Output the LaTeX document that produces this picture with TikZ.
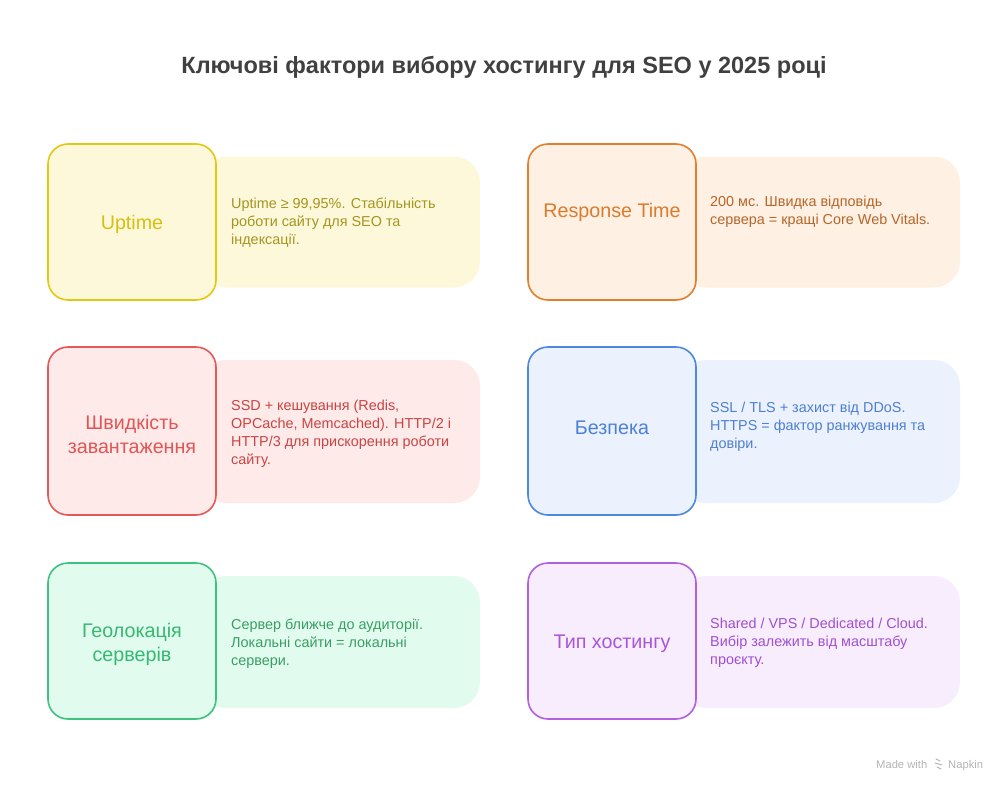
\documentclass[tikz,border=0pt]{standalone}
\usepackage{fontspec}
\setmainfont{Liberation Sans}
\usetikzlibrary{positioning}

\definecolor{headgray}{HTML}{404040}
\definecolor{footgray}{HTML}{B4B4B4}
\definecolor{ylwline}{HTML}{E3C710}
\definecolor{ylwfill}{HTML}{FEF8DA}
\definecolor{ylwtitle}{HTML}{D6BE12}
\definecolor{ylwtext}{HTML}{A39520}
\definecolor{orgline}{HTML}{E07F2E}
\definecolor{orgfill}{HTML}{FEF0E3}
\definecolor{orgtitle}{HTML}{DB7B2E}
\definecolor{orgtext}{HTML}{B5662A}
\definecolor{redline}{HTML}{E65757}
\definecolor{redfill}{HTML}{FDEAE9}
\definecolor{redtitle}{HTML}{E05555}
\definecolor{redtext}{HTML}{C94444}
\definecolor{bluline}{HTML}{4C87E0}
\definecolor{blufill}{HTML}{EBF2FE}
\definecolor{blutitle}{HTML}{4C80D8}
\definecolor{blutext}{HTML}{4E7FD0}
\definecolor{grnline}{HTML}{3EC27F}
\definecolor{grnfill}{HTML}{E1FBEF}
\definecolor{grntitle}{HTML}{35B872}
\definecolor{grntext}{HTML}{3A9E63}
\definecolor{purline}{HTML}{B25FE0}
\definecolor{purfill}{HTML}{F7EDFD}
\definecolor{purtitle}{HTML}{A955D8}
\definecolor{purtext}{HTML}{A050D0}

\begin{document}
\begin{tikzpicture}[x=1pt,y=-1pt]

\tikzset{factor/.style = {shape=rectangle,rounded corners=20pt,draw,line width=1.6pt,minimum width=168pt,minimum height=156pt}}
\tikzset{panel/.style = {shape=rectangle,rounded corners=26pt,minimum width=280pt,minimum height=131pt}}
\tikzset{factorname/.style = {align=center,inner sep=0pt,font=\fontsize{19.7}{24}\selectfont}}
\tikzset{info/.style = {anchor=west,align=left,inner sep=0pt,font=\fontsize{14.4}{18}\selectfont}}
\tikzset{foot/.style = {anchor=base west,inner sep=0pt,font=\fontsize{11.2}{13}\selectfont,text=footgray}}
\useasboundingbox (0,0) rectangle (1008,792);

% heading
\node[font=\bfseries\fontsize{23.5}{28}\selectfont,text=headgray] (head) at (504,67) {Ключові фактори вибору хостингу для SEO у 2025 році};

% panels
\node[panel,fill=ylwfill] (p1) at (340,222) {};
\node[panel,fill=orgfill] (p2) at (820,222) {};
\node[panel,fill=redfill,minimum height=143pt] (p3) at (340,431.5) {};
\node[panel,fill=blufill,minimum height=143pt] (p4) at (820,431.5) {};
\node[panel,fill=grnfill,minimum height=132pt] (p5) at (340,642) {};
\node[panel,fill=purfill,minimum height=132pt] (p6) at (820,642) {};

% factors
\node[factor,draw=ylwline,fill=ylwfill] (f1) at (132,222) {};
\node[factor,draw=orgline,fill=orgfill] (f2) at (612,222) {};
\node[factor,draw=redline,fill=redfill,minimum height=168pt] (f3) at (132,431) {};
\node[factor,draw=bluline,fill=blufill,minimum height=168pt] (f4) at (612,431) {};
\node[factor,draw=grnline,fill=grnfill] (f5) at (132,641) {};
\node[factor,draw=purline,fill=purfill] (f6) at (612,641) {};

% names
\node[factorname,text=ylwtitle] (n1) at (132,224) {Uptime};
\node[factorname,text=orgtitle] (n2) at (612,212) {Response Time};
\node[factorname,text=redtitle] (n3) at (132,434) {Швидкість\\завантаження};
\node[factorname,text=blutitle] (n4) at (612,428) {Безпека};
\node[factorname,text=grntitle] (n5) at (132,644) {Геолокація\\серверів};
\node[factorname,text=purtitle] (n6) at (612,644) {Тип хостингу};

% texts
\node[info,text=ylwtext] (i1) at (231,223) {Uptime ≥ 99,95\%. Стабільність\\роботи сайту для SEO та\\індексації.};
\node[info,text=orgtext] (i2) at (710,212) {200 мс. Швидка відповідь\\сервера = кращі Core Web Vitals.};
\node[info,text=redtext] (i3) at (231,434) {SSD + кешування (Redis,\\OPCache, Memcached). HTTP/2 і\\HTTP/3 для прискорення роботи\\сайту.};
\node[info,text=blutext] (i4) at (710,427) {SSL / TLS + захист від DDoS.\\HTTPS = фактор ранжування та\\довіри.};
\node[info,text=grntext] (i5) at (231,644) {Сервер ближче до аудиторії.\\Локальні сайти = локальні\\сервери.};
\node[info,text=purtext] (i6) at (710,643) {Shared / VPS / Dedicated / Cloud.\\Вибір залежить від масштабу\\проєкту.};

% footer
\node[foot] (made) at (876,768) {Made with};
\node[foot] (napkin) at (948,768) {Napkin};
\coordinate (logo) at (939,764);
\draw[footgray,line width=1pt,line cap=round] ([shift={(-3,-5)}]logo) -- ([shift={(1,-3)}]logo);
\draw[footgray,line width=1pt,line cap=round] ([shift={(-4,-1)}]logo) -- ([shift={(3,1)}]logo);
\draw[footgray,line width=1pt,line cap=round] ([shift={(-2,3)}]logo) -- ([shift={(2,5)}]logo);
\end{tikzpicture}
\end{document}
